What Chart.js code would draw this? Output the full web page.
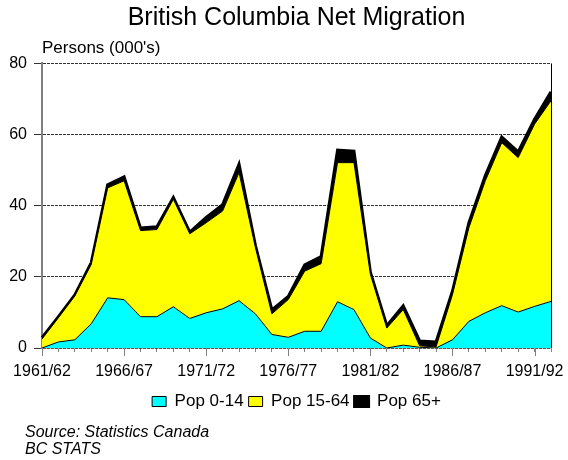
<!DOCTYPE html>
<html lang="en">
<head>
    <meta charset="UTF-8">
    <title>British Columbia Net Migration</title>
    <script src="https://cdn.jsdelivr.net/npm/chart.js"></script>
    <style>
        body { margin: 0; background: #fff; }
        #wrap { position: relative; width: 568px; height: 460px; }
        #migrationChart { position: absolute; left: 0; top: 0; }
        .source {
            position: absolute; left: 25px; top: 424px;
            font: italic 16px "Liberation Sans", Arial, sans-serif;
            line-height: 16.5px; color: #000;
        }
    </style>
</head>
<body>
    <div id="wrap">
        <canvas id="migrationChart" width="568" height="460"></canvas>
        <div class="source">Source: Statistics Canada<br>BC STATS</div>
    </div>
    <script>
        // fiscal years 1961/62 .. 1992/93
        const years = [
            '1961/62', '1962/63', '1963/64', '1964/65', '1965/66', '1966/67', '1967/68', '1968/69',
            '1969/70', '1970/71', '1971/72', '1972/73', '1973/74', '1974/75', '1975/76', '1976/77',
            '1977/78', '1978/79', '1979/80', '1980/81', '1981/82', '1982/83', '1983/84', '1984/85',
            '1985/86', '1986/87', '1987/88', '1988/89', '1989/90', '1990/91', '1991/92', '1992/93'
        ];

        // net migration, thousands of persons
        const pop0to14 = [0, 1.7, 2.3, 6.8, 14.1, 13.6, 8.8, 8.8, 11.6, 8.3, 9.9, 11.0, 13.3, 9.6, 3.8, 3.0,
            4.7, 4.7, 13.0, 10.8, 2.8, 0, 0.8, 0.2, 0, 2.3, 7.5, 9.9, 11.9, 10.1, 11.7, 13.1];
        const pop15to64 = [2.5, 6.8, 12.3, 16.7, 30.9, 33.4, 24.2, 24.5, 30.2, 23.8, 25.3, 27.5, 36.0, 18.6, 5.8, 10.6,
            16.9, 19.0, 39.1, 41.3, 17.9, 5.6, 10.0, 0.4, 0.3, 12.7, 26.3, 37.1, 45.8, 43.4, 51.2, 56.4];
        const pop65plus = [0.4, 0.3, 0.3, 0.5, 0.9, 1.1, 0.7, 0.8, 0.5, 0.5, 1.5, 1.8, 2.4, 0.6, 1.1, 0.9,
            1.8, 2.0, 3.5, 3.2, 0.6, 0.7, 1.1, 1.4, 1.4, 1.0, 1.4, 1.5, 1.6, 1.6, 1.4, 2.5];

        const yTicks = [0, 20, 40, 60, 80];

        const FONT = '"Liberation Sans", Arial, sans-serif';

        // right-hand frame line and the longer ticks under the labelled years
        const framePlugin = {
            id: 'frame',
            afterDraw(chart) {
                const { ctx, chartArea: a, scales: { x } } = chart;
                ctx.save();
                ctx.strokeStyle = '#000';
                ctx.lineWidth = 1;
                ctx.beginPath();
                ctx.moveTo(a.right + 0.5, a.top);
                ctx.lineTo(a.right + 0.5, a.bottom);
                ctx.stroke();

                ctx.strokeStyle = '#808080';
                ctx.beginPath();
                years.forEach((y, i) => {
                    if (i % 5 !== 0) return;
                    const px = Math.round(x.getPixelForValue(i)) + 0.5;
                    ctx.moveTo(px, a.bottom);
                    ctx.lineTo(px, a.bottom + 8);
                });
                ctx.stroke();
                ctx.restore();
            }
        };

        const ctx = document.getElementById('migrationChart').getContext('2d');
        new Chart(ctx, {
            type: 'line',
            data: {
                labels: years,
                datasets: [{
                    label: 'Pop 0-14',
                    data: pop0to14,
                    backgroundColor: '#00ffff',
                    borderColor: '#000',
                    borderWidth: 1,
                    fill: 'origin'
                }, {
                    label: 'Pop 15-64',
                    data: pop15to64,
                    backgroundColor: '#ffff00',
                    borderColor: '#000',
                    borderWidth: 1,
                    fill: '-1'
                }, {
                    label: 'Pop 65+',
                    data: pop65plus,
                    backgroundColor: '#000',
                    borderColor: '#000',
                    borderWidth: 3,
                    fill: '-1'
                }]
            },
            options: {
                responsive: false,
                animation: false,
                elements: {
                    point: { radius: 0 },
                    line: { tension: 0, borderJoinStyle: 'miter' }
                },
                layout: { padding: { left: 0, right: 17, top: 0, bottom: 40 } },
                scales: {
                    x: {
                        offset: false,
                        afterFit: s => { s.height = 40; },
                        grid: {
                            drawOnChartArea: false,
                            drawTicks: true,
                            tickLength: 4,
                            color: '#808080'
                        },
                        border: { color: '#808080', width: 1.5 },
                        ticks: {
                            autoSkip: false,
                            maxRotation: 0,
                            padding: 10,
                            color: '#000',
                            font: { family: FONT, size: 16 },
                            callback: (v, i) => (i % 5 === 0 ? years[i] : '')
                        }
                    },
                    y: {
                        stacked: true,
                        min: 0,
                        max: 80,
                        afterFit: s => { s.width = 42; },
                        afterBuildTicks: s => { s.ticks = yTicks.map(v => ({ value: v })); },
                        grid: {
                            color: '#333',
                            tickLength: 8,
                            tickBorderDash: [],
                            drawTicks: true
                        },
                        // in v4 border.dash styles the grid lines
                        border: { color: '#808080', width: 2, dash: [3, 1] },
                        ticks: {
                            padding: 7,
                            color: '#000',
                            font: { family: FONT, size: 16 }
                        }
                    }
                },
                plugins: {
                    title: {
                        display: true,
                        text: 'British Columbia Net Migration',
                        fullSize: false,
                        color: '#000',
                        font: { family: FONT, size: 25, weight: 'normal' },
                        padding: { top: 3, bottom: 2 }
                    },
                    subtitle: {
                        display: true,
                        text: "Persons (000's)",
                        align: 'start',
                        fullSize: false,
                        color: '#000',
                        font: { family: FONT, size: 17 },
                        padding: { top: 3, bottom: 5 }
                    },
                    legend: {
                        position: 'bottom',
                        fullSize: false,
                        labels: {
                            boxWidth: 14,
                            boxHeight: 10,
                            padding: 5,
                            color: '#000',
                            font: { family: FONT, size: 17 }
                        }
                    },
                    tooltip: { enabled: false }
                }
            },
            plugins: [framePlugin]
        });
    </script>
</body>
</html>
